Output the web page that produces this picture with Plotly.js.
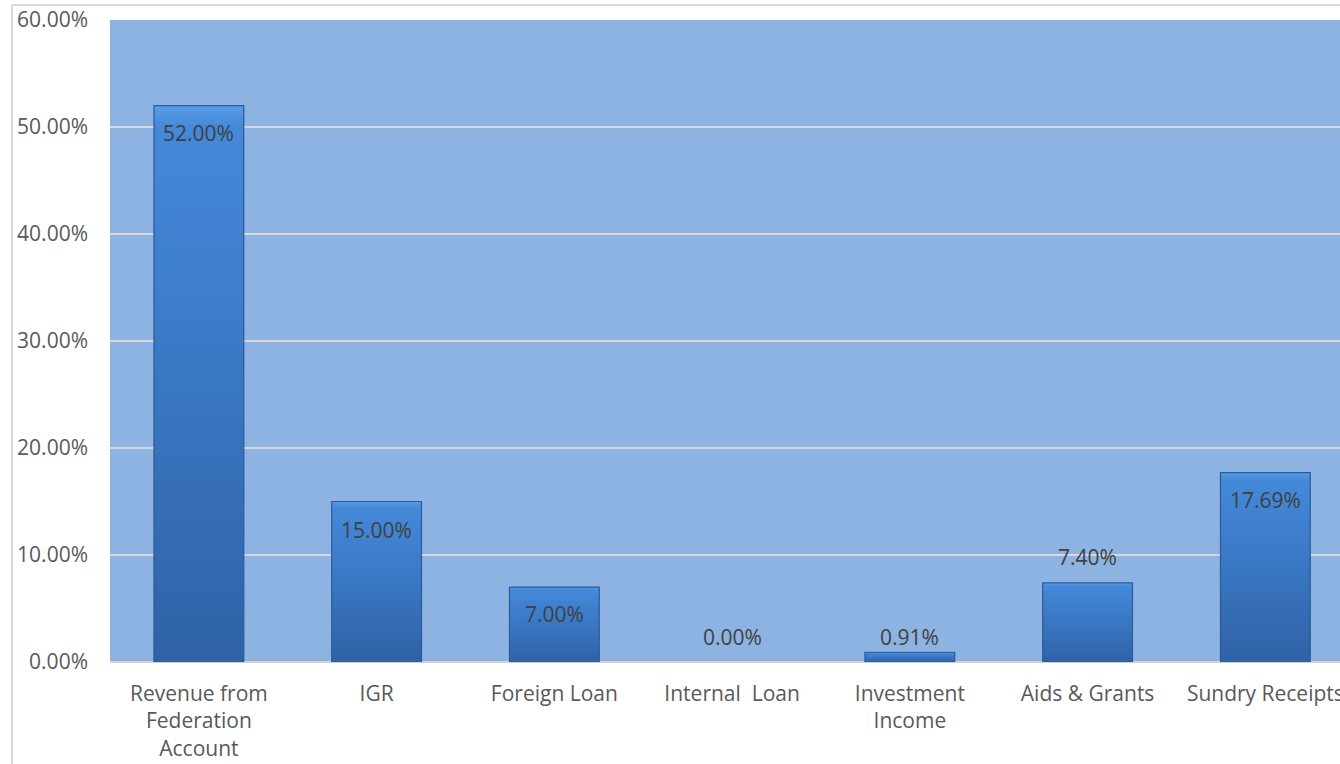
<!DOCTYPE html>
<html>
<head>
<meta charset="utf-8">
<script src="https://cdn.plot.ly/plotly-3.0.1.min.js"></script>
<style>html,body{margin:0;padding:0;background:#fff;}#chart{width:1340px;height:764px;}</style>
</head>
<body>
<div id="chart"></div>
<script>
const categories = ["Revenue from<br>Federation<br>Account", "IGR", "Foreign Loan", "Internal  Loan", "Investment<br>Income", "Aids & Grants", "Sundry Receipts"];
const values = [0.52, 0.15, 0.07, 0.0, 0.0091, 0.074, 0.1769];
const labels = ["52.00%", "15.00%", "7.00%", "0.00%", "0.91%", "7.40%", "17.69%"];
const yTickVals = [0, 0.1, 0.2, 0.3, 0.4, 0.5, 0.6];
const yTickText = ["0.00%", "10.00%", "20.00%", "30.00%", "40.00%", "50.00%", "60.00%"];

// label offsets in pixels (style only): negative = inside bar top, positive = above bar
const labelShift = [-27, -28, -27, 25, 15, 26, -27];

const font = "'Open Sans', 'DejaVu Sans', sans-serif";

const trace = {
  type: "bar",
  x: categories.map((c, i) => i),
  y: values,
  marker: {color: "#3B78C2", line: {color: "#2A5A97", width: values.map(v => v > 0 ? 1.2 : 0)}},
  width: 0.505,
  hoverinfo: "skip"
};

const annotations = values.map((v, i) => ({
  x: i, y: v, xref: "x", yref: "y",
  text: labels[i], showarrow: false,
  yanchor: "middle", xanchor: "center",
  yshift: labelShift[i],
  font: {family: font, size: 21, color: "#404040"}
}));

const layout = {
  width: 1340, height: 764,
  margin: {l: 110, r: 0, t: 20, b: 102, pad: 0},
  paper_bgcolor: "#FFFFFF",
  plot_bgcolor: "#8DB3E2",
  showlegend: false,
  xaxis: {
    range: [-0.5, 6.42],
    tickvals: categories.map((c, i) => i),
    ticktext: categories,
    tickangle: 0,
    ticks: "",
    ticklabelstandoff: 17,
    ticklabeloverflow: "allow",
    showgrid: false,
    zeroline: false,
    showline: false,
    tickfont: {family: font, size: 21, color: "#595959"},
    fixedrange: true
  },
  yaxis: {
    range: [0, 0.6],
    tickvals: yTickVals,
    ticktext: yTickText,
    ticks: "",
    ticklabelstandoff: 21,
    ticklabeloverflow: "allow",
    showgrid: true,
    gridcolor: "#D9D9D9",
    gridwidth: 1.5,
    zeroline: true,
    zerolinecolor: "#D0D0D0",
    zerolinewidth: 2,
    showline: false,
    tickfont: {family: font, size: 21, color: "#595959"},
    fixedrange: true
  },
  annotations: annotations,
  shapes: [
    {type: "line", xref: "paper", yref: "paper", x0: -0.0797, x1: 1.05, y0: 1.0234, y1: 1.0234, line: {color: "#D9D9D9", width: 2}},
    {type: "line", xref: "paper", yref: "paper", x0: -0.0797, x1: -0.0797, y0: 1.0234, y1: -0.2, line: {color: "#D9D9D9", width: 2}}
  ]
};

Plotly.newPlot("chart", [trace], layout, {displayModeBar: false, staticPlot: true}).then(gd => {
  const svg = gd.querySelector("svg.main-svg");
  const ns = "http://www.w3.org/2000/svg";
  let defs = svg.querySelector("defs");
  if (!defs) { defs = document.createElementNS(ns, "defs"); svg.insertBefore(defs, svg.firstChild); }
  const grad = document.createElementNS(ns, "linearGradient");
  grad.setAttribute("id", "barGrad");
  grad.setAttribute("x1", "0"); grad.setAttribute("y1", "0");
  grad.setAttribute("x2", "0"); grad.setAttribute("y2", "1");
  [["0", "#5A9BE6"], ["0.04", "#4489D8"], ["0.35", "#3D7DCB"], ["1", "#2F62A6"]].forEach(([o, c]) => {
    const s = document.createElementNS(ns, "stop");
    s.setAttribute("offset", o); s.setAttribute("stop-color", c);
    grad.appendChild(s);
  });
  defs.appendChild(grad);
  gd.querySelectorAll(".bars .point path").forEach(p => { p.style.fill = "url(#barGrad)"; });
});
</script>
</body>
</html>
